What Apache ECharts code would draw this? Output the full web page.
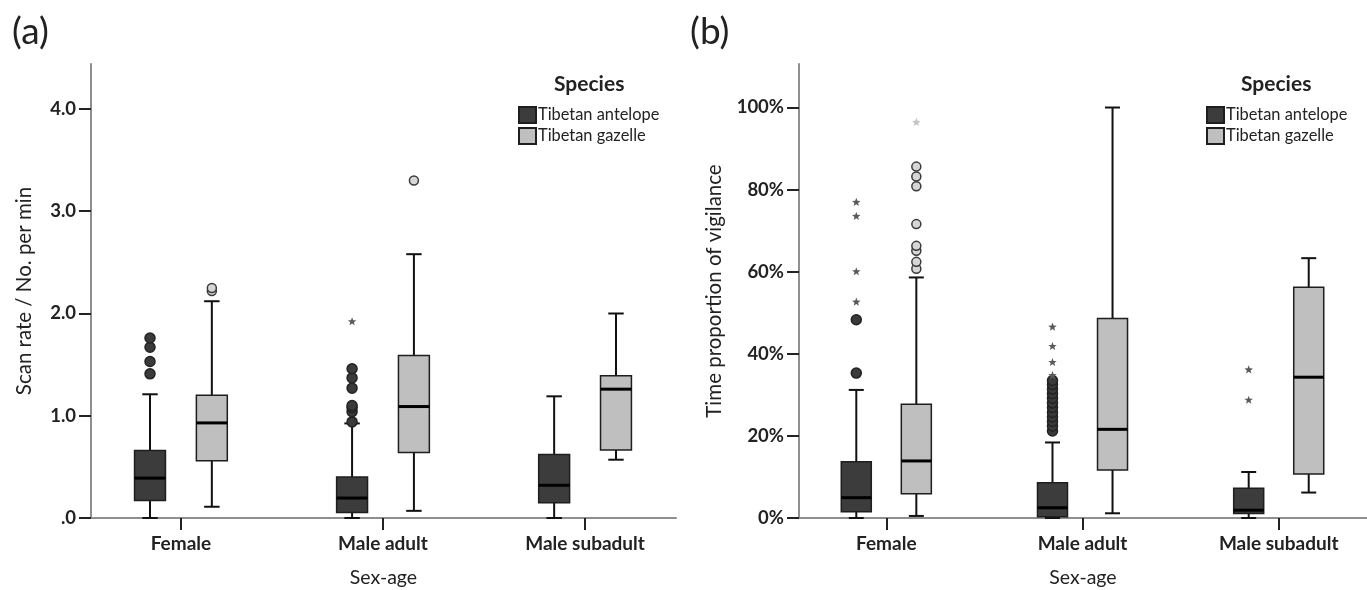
<!DOCTYPE html>
<html>
<head>
<meta charset="utf-8">
<title>Scan rate and vigilance by sex-age</title>
<script src="https://cdn.jsdelivr.net/npm/echarts@6/dist/echarts.min.js"></script>
<style>
  html, body { margin: 0; padding: 0; background: #fff; }
  #chart { width: 1367px; height: 590px; }
</style>
</head>
<body>
<div id="chart"></div>
<script>
// categories on the x axis
const categories = ['Female', 'Male adult', 'Male subadult']
const speciesNames = ['Tibetan antelope', 'Tibetan gazelle']

// (a) scan rate, boxes: [low whisker, Q1, median, Q3, high whisker]
const antelopeScanBox = [[0, 0.17, 0.39, 0.66, 1.21], [0, 0.055, 0.195, 0.40, 0.925], [0, 0.15, 0.32, 0.62, 1.19]]
const gazelleScanBox = [[0.11, 0.56, 0.93, 1.20, 2.12], [0.07, 0.64, 1.09, 1.59, 2.58], [0.57, 0.665, 1.26, 1.39, 2.00]]
// outliers: [category index, value]
const antelopeScanOut = [[0, 1.41], [0, 1.53], [0, 1.67], [0, 1.76], [1, 0.94], [1, 1.04], [1, 1.08], [1, 1.10], [1, 1.27], [1, 1.37], [1, 1.46]]
const antelopeScanExtreme = [[1, 1.92]]
const gazelleScanOut = [[0, 2.22], [0, 2.25], [1, 3.30]]
const scanTicks = [0, 1, 2, 3, 4]

// (b) time proportion of vigilance (%)
const antelopeVigBox = [[0, 1.5, 4.95, 13.7, 31.2], [0, 0.3, 2.5, 8.6, 18.4], [0, 1.1, 1.9, 7.25, 11.2]]
const gazelleVigBox = [[0.5, 5.9, 13.9, 27.7, 58.6], [1.15, 11.7, 21.6, 48.6, 100], [6.2, 10.7, 34.3, 56.2, 63.3]]
const antelopeVigOut = [[0, 35.3], [0, 48.3], [1, 21.2], [1, 22.4], [1, 23.5], [1, 24.6], [1, 25.7], [1, 26.9], [1, 28.0], [1, 29.2], [1, 30.3], [1, 31.4], [1, 32.5], [1, 33.5]]
const antelopeVigExtreme = [[0, 52.6], [0, 60.0], [0, 73.5], [0, 76.9], [1, 34.7], [1, 37.9], [1, 41.8], [1, 46.5], [2, 28.7], [2, 36.1]]
const gazelleVigOut = [[0, 60.7], [0, 62.4], [0, 65.1], [0, 66.3], [0, 71.6], [0, 80.8], [0, 83.2], [0, 85.6]]
const gazelleVigExtreme = [[0, 96.4]]
const vigTicks = [0, 20, 40, 60, 80, 100]

const FONT = 'Lato'
const DARK_FILL = '#3c3c3c'
const LIGHT_FILL = '#bfbfbf'
const BOX_SHIFT = 0.153 // share of category step
const BOX_WIDTH = 0.153

function centerX(api, side) {
  const cat = api.value(0)
  const unit = api.size([1, 0])[0]
  return api.coord([cat, 0])[0] + side * unit * BOX_SHIFT
}

function boxRenderer(side, fill) {
  return function(params, api) {
    const cx = centerX(api, side)
    const w = api.size([1, 0])[0] * BOX_WIDTH
    const y = i => api.coord([api.value(0), api.value(i)])[1]
    const lowY = y(1); const q1Y = y(2); const medY = y(3); const q3Y = y(4); const highY = y(5)
    const line = { stroke: '#111', lineWidth: 2 }
    return {
      type: 'group',
      children: [
        { type: 'line', shape: { x1: cx, y1: lowY, x2: cx, y2: q1Y }, style: line },
        { type: 'line', shape: { x1: cx, y1: q3Y, x2: cx, y2: highY }, style: line },
        { type: 'line', shape: { x1: cx - w / 4, y1: lowY, x2: cx + w / 4, y2: lowY }, style: line },
        { type: 'line', shape: { x1: cx - w / 4, y1: highY, x2: cx + w / 4, y2: highY }, style: line },
        { type: 'rect', shape: { x: cx - w / 2, y: q3Y, width: w, height: q1Y - q3Y },
          style: { fill: fill, stroke: '#1e1e1e', lineWidth: 1.5 } },
        { type: 'line', shape: { x1: cx - w / 2, y1: medY, x2: cx + w / 2, y2: medY },
          style: { stroke: '#000', lineWidth: 3 } }
      ]
    }
  }
}

function circleRenderer(side, fill, stroke, r) {
  return function(params, api) {
    const cx = centerX(api, side)
    const cy = api.coord([api.value(0), api.value(1)])[1]
    return { type: 'circle', shape: { cx: cx, cy: cy, r: r }, style: { fill: fill, stroke: stroke, lineWidth: 1.5 } }
  }
}

function starRenderer(side, color) {
  return function(params, api) {
    const cx = centerX(api, side)
    const cy = api.coord([api.value(0), api.value(1)])[1]
    const pts = []
    for (let k = 0; k < 10; k++) {
      const r = k % 2 === 0 ? 4.5 : 1.9
      const a = -Math.PI / 2 + k * Math.PI / 5
      pts.push([cx + r * Math.cos(a), cy + r * Math.sin(a)])
    }
    return { type: 'polygon', shape: { points: pts }, style: { fill: color } }
  }
}

function boxSeries(name, idx, side, fill, boxes) {
  return {
    name: name,
    type: 'custom',
    xAxisIndex: idx,
    yAxisIndex: idx,
    renderItem: boxRenderer(side, fill),
    itemStyle: { color: fill, borderColor: '#1e1e1e', borderWidth: 1.5 },
    encode: { x: 0, y: [1, 2, 3, 4, 5] },
    data: boxes.map((b, i) => [i].concat(b)),
    z: 2
  }
}

function pointSeries(name, idx, renderer, data) {
  return {
    name: name,
    type: 'custom',
    xAxisIndex: idx,
    yAxisIndex: idx,
    renderItem: renderer,
    encode: { x: 0, y: 1 },
    data: data,
    z: 3
  }
}

function xAxisFor(idx) {
  return {
    type: 'value',
    gridIndex: idx,
    min: -0.445,
    max: 2.45,
    name: 'Sex-age',
    nameLocation: 'middle',
    nameGap: 50,
    nameTextStyle: { fontFamily: FONT, fontSize: 19.5, color: '#222' },
    axisLine: { onZero: false, lineStyle: { color: '#8f8f8f', width: 2 } },
    axisTick: { customValues: [0, 1, 2], length: 12, lineStyle: { color: '#222', width: 2 } },
    axisLabel: {
      customValues: [0, 1, 2],
      formatter: v => categories[v],
      margin: 16,
      fontFamily: FONT, fontSize: 19, fontWeight: 'bold', color: '#222'
    },
    splitLine: { show: false }
  }
}

function yAxisFor(idx, max, ticks, name, gap, fmt) {
  return {
    type: 'value',
    gridIndex: idx,
    min: 0,
    max: max,
    name: name,
    nameLocation: 'middle',
    nameGap: gap,
    nameTextStyle: { fontFamily: FONT, fontSize: 20.5, color: '#222' },
    axisLine: { show: true, onZero: false, lineStyle: { color: '#8f8f8f', width: 2 } },
    axisTick: { show: true, customValues: ticks, length: 12, lineStyle: { color: '#222', width: 2 } },
    axisLabel: {
      customValues: ticks,
      formatter: fmt,
      margin: 15,
      fontFamily: FONT, fontSize: 18.5, fontWeight: 'bold', color: '#222'
    },
    splitLine: { show: false }
  }
}

function legendFor(left) {
  return {
    data: speciesNames,
    orient: 'vertical',
    left: left,
    top: 101,
    itemWidth: 17,
    itemHeight: 16,
    itemGap: 3,
    icon: 'rect',
    selectedMode: false,
    textStyle: { fontFamily: FONT, fontSize: 16.4, lineHeight: 16, color: '#222', padding: [0, 0, 0, -3] }
  }
}

const chart = echarts.init(document.getElementById('chart'))

chart.setOption({
  backgroundColor: '#fff',
  animation: false,
  title: [
    { text: '(a)', left: 7, top: 9, textStyle: { fontFamily: FONT, fontSize: 37, fontWeight: 'normal', color: '#222' } },
    { text: '(b)', left: 685, top: 9, textStyle: { fontFamily: FONT, fontSize: 37, fontWeight: 'normal', color: '#222' } },
    { text: 'Species', left: 549, top: 69, textStyle: { fontFamily: FONT, fontSize: 21, fontWeight: 'bold', color: '#222' } },
    { text: 'Species', left: 1236, top: 69, textStyle: { fontFamily: FONT, fontSize: 21, fontWeight: 'bold', color: '#222' } }
  ],
  legend: [legendFor(513), legendFor(1201)],
  grid: [
    { left: 91, right: 691, top: 64, bottom: 72, outerBoundsMode: 'none' },
    { left: 799, right: 0, top: 64, bottom: 72, outerBoundsMode: 'none' }
  ],
  xAxis: [xAxisFor(0), xAxisFor(1)],
  yAxis: [
    yAxisFor(0, 4.44, scanTicks, 'Scan rate / No. per min', 56, v => (v === 0 ? '.0' : v.toFixed(1))),
    yAxisFor(1, 110.6, vigTicks, 'Time proportion of vigilance', 74, v => v + '%')
  ],
  series: [
    boxSeries(speciesNames[0], 0, -1, DARK_FILL, antelopeScanBox),
    boxSeries(speciesNames[1], 0, 1, LIGHT_FILL, gazelleScanBox),
    pointSeries('antelope outliers a', 0, circleRenderer(-1, '#3a3a3a', '#222', 5), antelopeScanOut),
    pointSeries('antelope extremes a', 0, starRenderer(-1, '#5a5a5a'), antelopeScanExtreme),
    pointSeries('gazelle outliers a', 0, circleRenderer(1, '#d6d6d6', '#3a3a3a', 4.5), gazelleScanOut),

    boxSeries(speciesNames[0], 1, -1, DARK_FILL, antelopeVigBox),
    boxSeries(speciesNames[1], 1, 1, LIGHT_FILL, gazelleVigBox),
    pointSeries('antelope outliers b', 1, circleRenderer(-1, '#3a3a3a', '#222', 5), antelopeVigOut),
    pointSeries('antelope extremes b', 1, starRenderer(-1, '#5a5a5a'), antelopeVigExtreme),
    pointSeries('gazelle outliers b', 1, circleRenderer(1, '#d6d6d6', '#3a3a3a', 4.5), gazelleVigOut),
    pointSeries('gazelle extremes b', 1, starRenderer(1, '#c4c4c4'), gazelleVigExtreme)
  ]
})
</script>
</body>
</html>
